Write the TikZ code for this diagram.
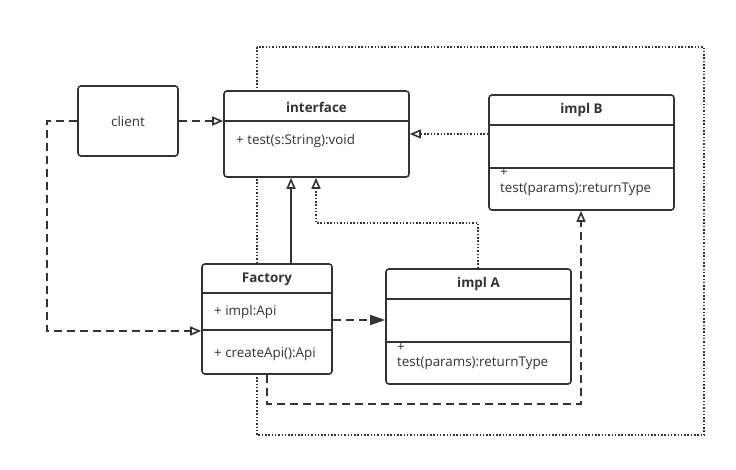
\documentclass[tikz,border=0pt]{standalone}
\usepackage{fontspec}
\setmainfont{Open Sans}
\usetikzlibrary{arrows.meta}
\definecolor{umlgray}{HTML}{333333}

\begin{document}
\begin{tikzpicture}[x=1pt, y=-1pt, font=\fontsize{13.4}{16}\selectfont,
    classbox/.style={draw=umlgray, line width=1.6pt, rounded corners=3pt, fill=white, inner sep=0pt},
    divider/.style={draw=umlgray, line width=1.6pt},
    title/.style={font=\fontsize{13.4}{16}\selectfont\bfseries, text=umlgray, inner sep=0pt},
    member/.style={anchor=west, text=umlgray, inner sep=0pt},
    realize/.style={umlgray, line width=1.6pt, dash pattern=on 8pt off 5pt, -{Triangle[open, length=11pt, width=9pt]}},
    depend/.style={umlgray, line width=1.6pt, dash pattern=on 8pt off 5pt, -{Triangle[length=15pt, width=10pt]}},
    inherit/.style={umlgray, line width=1.6pt, -{Triangle[open, length=11pt, width=9pt]}},
    implement/.style={umlgray, line width=1.6pt, dash pattern=on 1.5pt off 1.8pt, -{Triangle[open, length=11pt, width=9pt]}},
    frameline/.style={umlgray, line width=1.4pt, dash pattern=on 1.5pt off 1.8pt}]
    \useasboundingbox (0,0) rectangle (736,469);

    % dotted frame behind the classes
    \coordinate (frameNW) at (257,47);
    \coordinate (frameSE) at (704,435);
    \draw[frameline] (frameNW) rectangle (frameSE);

    % classes
    \node[classbox, minimum width=100, minimum height=70] (client) at (128,121) {};
    \node[text=umlgray] at (client.center) {client};

    \node[classbox, minimum width=185, minimum height=86] (interface) at (316.5,134) {};
    \draw[divider] (interface.west |- 0,121) -- (interface.east |- 0,121);
    \node[title] at (interface.north |- 0,107) {interface};
    \node[member] at (236,141) {+ test(s:String):void};

    \node[classbox, minimum width=185, minimum height=115] (implB) at (581.5,152.5) {};
    \draw[divider] (implB.west |- 0,125) -- (implB.east |- 0,125);
    \draw[divider] (implB.west |- 0,168) -- (implB.east |- 0,168);
    \node[title] at (implB.north |- 0,110) {impl B};
    \node[member] at (500,173) {+};
    \node[member] at (500,189) {test(params):returnType};

    \node[classbox, minimum width=130, minimum height=110] (factory) at (267,319) {};
    \draw[divider] (factory.west |- 0,293) -- (factory.east |- 0,293);
    \draw[divider] (factory.west |- 0,330) -- (factory.east |- 0,330);
    \node[title] at (factory.north |- 0,279) {Factory};
    \node[member] at (214,312) {+ impl:Api};
    \node[member] at (214,354) {+ createApi():Api};

    \node[classbox, minimum width=185, minimum height=115] (implA) at (478.5,326.5) {};
    \draw[divider] (implA.west |- 0,299) -- (implA.east |- 0,299);
    \draw[divider] (implA.west |- 0,342) -- (implA.east |- 0,342);
    \node[title] at (implA.north |- 0,284) {impl A};
    \node[member] at (397,348) {+};
    \node[member] at (397,363) {test(params):returnType};

    % connectors
    \coordinate (clientL) at (47,121);
    \coordinate (implAturn) at (478,223);
    \coordinate (factoryturn) at (267,404);
    \draw[realize] (client.east) -- (interface.west |- client.east);
    \draw[realize] (client.west) -- (clientL) |- (factory.west |- 0,331);
    \draw[inherit] (factory.north -| 291,0) -- (interface.south -| 291,0);
    \draw[implement] (implA.north -| implAturn) -- (implAturn) -| (interface.south -| 316,0);
    \draw[implement] (implB.west |- 0,134) -- (interface.east |- 0,134);
    \draw[depend] (factory.east |- 0,320) -- (implA.west |- 0,320);
    \draw[realize] (factory.south -| factoryturn) -- (factoryturn) -| (implB.south -| 581,0);
\end{tikzpicture}
\end{document}
